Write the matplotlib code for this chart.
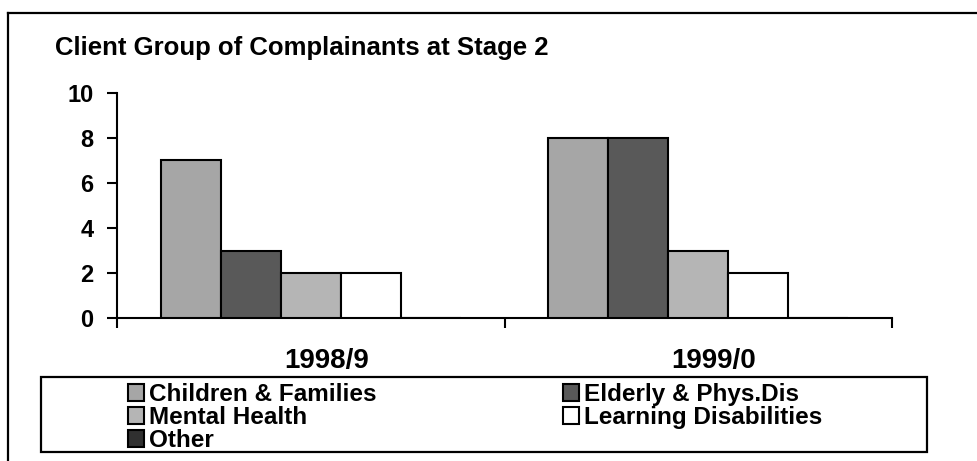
import numpy as np
import matplotlib
matplotlib.use("Agg")
import matplotlib.pyplot as plt
from matplotlib.patches import Rectangle
from matplotlib.lines import Line2D

plt.rcParams["font.family"] = ["Liberation Sans", "DejaVu Sans"]
plt.rcParams["font.weight"] = "bold"

# data
years = ["1998/9", "1999/0"]
groups = ["Children & Families", "Elderly & Phys.Dis", "Mental Health",
          "Learning Disabilities", "Other"]
children = [7, 8]
elderly = [3, 8]
mental = [2, 3]
learning = [2, 2]
other = [0, 0]
colors = ["#a6a6a6", "#595959", "#b5b5b5", "#ffffff", "#303030"]

W, H = 977, 461
fig = plt.figure(figsize=(W / 100, H / 100), dpi=100)


def fx(px):
    return px / W


def fy(py):
    return 1 - py / H


ax = fig.add_axes([fx(117), fy(318), fx(892) - fx(117), fy(93) - fy(318)])

series = [children, elderly, mental, learning, other]
x = np.arange(len(years))
w = 0.155
bars = []
for j, vals in enumerate(series):
    b = ax.bar(x + (j - 2) * w, vals, w, color=colors[j], edgecolor="black",
               linewidth=1.5, label=groups[j], zorder=3)
    bars.append(b)

ax.set_xlim(-0.5, 1.5)
ax.set_ylim(0, 10)
ax.set_yticks(range(0, 11, 2))
ax.tick_params(axis="y", direction="out", length=7, width=1.5, pad=10,
               labelsize=17)
for lab in ax.get_yticklabels():
    lab.set_fontweight("bold")
ax.set_xticks([-0.5, 0.5, 1.5])
ax.set_xticklabels([])
ax.tick_params(axis="x", direction="out", length=7, width=1.5)
for s in ["top", "right"]:
    ax.spines[s].set_visible(False)
for s in ["left", "bottom"]:
    ax.spines[s].set_linewidth(1.5)

for i, yr in enumerate(years):
    ax.text(i + 0.04, -0.222, yr, transform=ax.get_xaxis_transform(),
            ha="center", va="baseline", fontsize=20, fontweight="bold")

fig.text(fx(55), fy(48), "Client Group of Complainants at Stage 2",
         fontsize=18.5, fontweight="bold", va="center", ha="left")

# outer frame (only top and left visible in reference)
fig.add_artist(Line2D([fx(8), 1.0], [fy(13), fy(13)], color="black", lw=1.6))
fig.add_artist(Line2D([fx(8), fx(8)], [fy(13), 0.0], color="black", lw=1.6))

# legend box
fig.add_artist(Rectangle((fx(41), fy(452)), fx(927) - fx(41), fy(377) - fy(452),
                         transform=fig.transFigure, fill=False,
                         edgecolor="black", lw=1.6))
order = [0, 2, 4, 1, 3]
leg = fig.legend([bars[k] for k in order], [groups[k] for k in order],
                 loc="upper left", bbox_to_anchor=(fx(128), fy(383)),
                 ncol=2, frameon=False, fontsize=17.5, borderpad=0,
                 handlelength=0.65, handleheight=0.65, handletextpad=0.2,
                 labelspacing=0.0, columnspacing=7.7, borderaxespad=0)
for t in leg.get_texts():
    t.set_fontweight("bold")

fig.savefig("out.png", dpi=100)
